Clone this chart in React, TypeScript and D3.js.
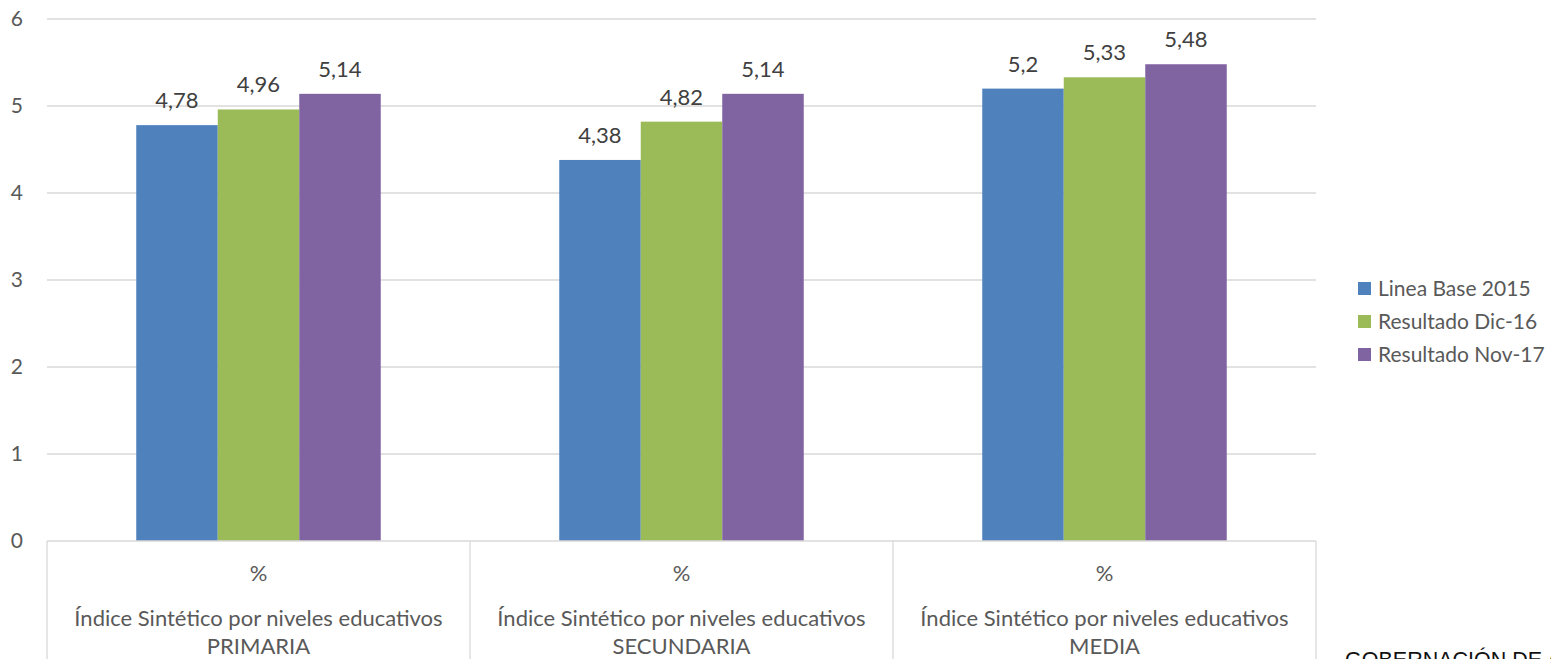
import React from "react";
import * as d3 from "d3";

const categories = ["PRIMARIA", "SECUNDARIA", "MEDIA"];
const seriesNames = ["Linea Base 2015", "Resultado Dic-16", "Resultado Nov-17"];
const seriesColors = ["#4F81BD", "#9BBB59", "#8064A2"];
const lineaBase2015 = [4.78, 4.38, 5.2];
const resultadoDic16 = [4.96, 4.82, 5.33];
const resultadoNov17 = [5.14, 5.14, 5.48];
const yTicks = [0, 1, 2, 3, 4, 5, 6];
const categoryPrefix = "Índice Sintético por niveles educativos";
const categoryTop = "%";
const footerText = "GOBERNACIÓN DE ANTIOQUIA";

const W = 1551;
const H = 659;
const FONT = "Lato, 'Open Sans', sans-serif";
const TXT = "#595959";

export default function App() {
  if (typeof document !== "undefined") document.body.style.margin = "0";
  const series = [lineaBase2015, resultadoDic16, resultadoNov17];
  const left = 47;
  const right = 1316;
  const top = 19;
  const bottom = 541;
  const x0 = d3.scaleBand<string>().domain(categories).range([left, right]).paddingInner(0).paddingOuter(0);
  const x1 = d3
    .scaleBand<string>()
    .domain(seriesNames)
    .range([0, x0.bandwidth()])
    .paddingInner(0)
    .paddingOuter(0.5 * (423 - 244.5) / 81.5);
  const y = d3.scaleLinear().domain([0, 6]).range([bottom, top]);
  const fmt = (v: number) => String(v).replace(".", ",");

  return (
    <svg width={W} height={H} style={{ position: "absolute", left: 0, top: 0, background: "#fff" }} fontFamily={FONT}>
      {yTicks.map((t) => (
        <g key={t}>
          {t > 0 && <line x1={left} x2={right} y1={y(t)} y2={y(t)} stroke="#D9D9D9" strokeWidth={1.3} />}
          <text x={23} y={y(t)} dy="0.35em" textAnchor="end" fontSize={21} fill={TXT}>
            {t}
          </text>
        </g>
      ))}
      {categories.map((c, ci) => (
        <g key={c}>
          {series.map((s, si) => {
            const bx = (x0(c) as number) + (x1(seriesNames[si]) as number);
            const bw = x1.bandwidth();
            return (
              <g key={si}>
                <rect x={bx} y={y(s[ci])} width={bw} height={bottom - y(s[ci])} fill={seriesColors[si]} />
                <text x={bx + bw / 2} y={y(s[ci]) - 17} textAnchor="middle" fontSize={22} fill="#404040">
                  {fmt(s[ci])}
                </text>
              </g>
            );
          })}
        </g>
      ))}
      <line x1={left} x2={right} y1={bottom} y2={bottom} stroke="#D9D9D9" strokeWidth={1.3} />
      {categories.map((c) => (
        <line key={"sep" + c} x1={x0(c) as number} x2={x0(c) as number} y1={bottom} y2={H} stroke="#D9D9D9" strokeWidth={1.3} />
      ))}
      <line x1={right} x2={right} y1={bottom} y2={H} stroke="#D9D9D9" strokeWidth={1.3} />
      {categories.map((c) => {
        const cx = (x0(c) as number) + x0.bandwidth() / 2;
        return (
          <g key={"lab" + c} fontSize={22} fill={TXT} textAnchor="middle">
            <text x={cx} y={573} dy="0.35em">{categoryTop}</text>
            <text x={cx} y={618} dy="0.35em">{categoryPrefix}</text>
            <text x={cx} y={646} dy="0.35em">{c}</text>
          </g>
        );
      })}
      {seriesNames.map((n, i) => (
        <g key={n} transform={`translate(1358, ${282 + i * 33})`}>
          <rect width={13} height={13} fill={seriesColors[i]} />
          <text x={20} y={6.5} dy="0.35em" fontSize={21} fill={TXT}>
            {n}
          </text>
        </g>
      ))}
      <text x={1345} y={667} fontFamily="'Liberation Sans', Arial, sans-serif" fontSize={21.5} fill="#111">
        {footerText}
      </text>
    </svg>
  );
}
